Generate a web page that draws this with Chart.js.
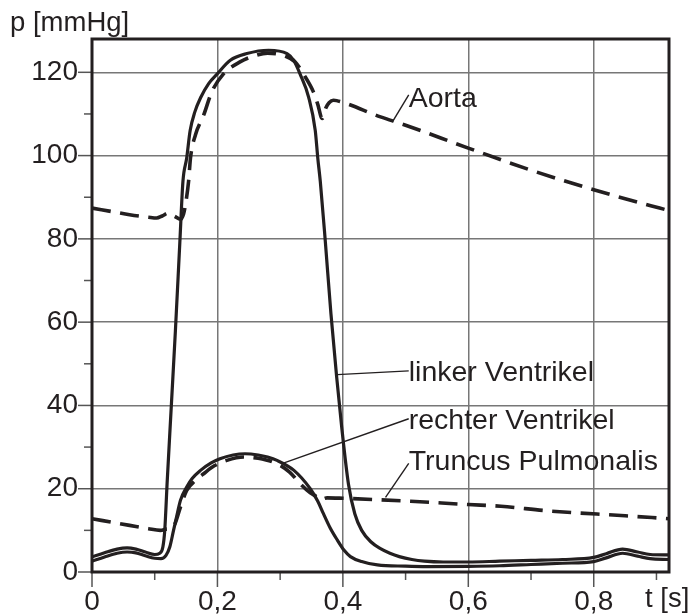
<!DOCTYPE html>
<html>
<head>
<meta charset="utf-8">
<script src="https://cdn.jsdelivr.net/npm/chart.js@4.4.1/dist/chart.umd.min.js"></script>
<style>
  html, body { margin: 0; background: #fff; }
  #wrap { width: 690px; height: 615px; }
</style>
</head>
<body>
<div id="wrap"><canvas id="chart"></canvas></div>
<script>
// time [s] and pressure [mmHg]
const lvT = [0, 0.02, 0.04, 0.056, 0.07, 0.085, 0.1, 0.108, 0.113, 0.116, 0.12, 0.1265, 0.133, 0.14, 0.145, 0.151, 0.1565, 0.164, 0.1735, 0.186, 0.199, 0.2205, 0.247, 0.2815, 0.311, 0.3215, 0.332, 0.3455, 0.356, 0.36, 0.364, 0.372, 0.381, 0.39, 0.398, 0.409, 0.419, 0.43, 0.445, 0.46, 0.475, 0.49, 0.51, 0.53, 0.56, 0.6, 0.65, 0.7, 0.75, 0.8, 0.82, 0.846, 0.87, 0.89, 0.92];
const lvP = [3.6, 4.6, 5.5, 5.8, 5.5, 4.8, 4.2, 4.5, 6, 10, 22, 40, 58, 79, 93.8, 99.4, 106, 110.5, 114, 117.3, 119.5, 122.9, 124.5, 125.3, 124.5, 122.9, 119.5, 114, 106, 99.4, 93.8, 79.4, 62, 47, 35, 21, 14, 10, 7.2, 5.6, 4.5, 3.7, 3, 2.6, 2.4, 2.4, 2.6, 2.8, 3, 3.5, 4.4, 5.5, 4.8, 4.2, 4.1];

const rvT = [0, 0.02, 0.04, 0.056, 0.07, 0.085, 0.1, 0.11, 0.118, 0.124, 0.13, 0.136, 0.141, 0.151, 0.16, 0.173, 0.19, 0.204, 0.225, 0.244, 0.265, 0.28, 0.295, 0.322, 0.348, 0.36, 0.369, 0.38, 0.391, 0.402, 0.412, 0.43, 0.455, 0.5, 0.535, 0.6, 0.65, 0.7, 0.75, 0.8, 0.82, 0.846, 0.87, 0.89, 0.92];
const rvP = [2.6, 3.6, 4.5, 4.8, 4.6, 3.9, 3.3, 3.2, 4, 6, 10, 14, 17.2, 20.4, 22.5, 24.4, 26.2, 27.2, 28.1, 28.4, 28.1, 27.6, 26.8, 24.4, 20, 17, 14, 10.5, 7.7, 5.2, 3.7, 2.5, 1.7, 1.4, 1.3, 1.35, 1.5, 1.8, 2.1, 2.5, 3.4, 4.5, 3.8, 3.2, 3];

const aoT = [0, 0.03, 0.06, 0.09, 0.103, 0.112, 0.122, 0.132, 0.141, 0.146, 0.149, 0.154, 0.157, 0.165, 0.178, 0.191, 0.209, 0.236, 0.258, 0.28, 0.308, 0.324, 0.3375, 0.353, 0.36, 0.367, 0.373, 0.378, 0.385, 0.39, 0.46, 0.5, 0.6, 0.7, 0.8, 0.905, 0.92];
const aoP = [87.4, 86.6, 85.8, 85.2, 85, 85.5, 86.2, 85.4, 84.7, 86, 88.2, 93.8, 99.4, 105, 109.7, 115.3, 119.5, 122.5, 123.9, 124.6, 123.9, 122.5, 119.5, 115.3, 112.3, 108.9, 111.5, 112.7, 113.3, 113.2, 109.3, 107.3, 101.8, 96.5, 91.8, 87.4, 86.8];

const tpT = [0, 0.03, 0.06, 0.09, 0.109, 0.118, 0.125, 0.132, 0.141, 0.151, 0.165, 0.178, 0.195, 0.215, 0.242, 0.265, 0.295, 0.315, 0.332, 0.348, 0.359, 0.364, 0.375, 0.4, 0.45, 0.508, 0.6, 0.652, 0.726, 0.85, 0.92];
const tpP = [12.8, 12, 11.2, 10.4, 10, 10.3, 10.5, 11.5, 15.6, 19.6, 22, 23.6, 25.5, 26.8, 27.6, 27.3, 26, 24, 21.2, 19, 18, 17.4, 17.8, 17.7, 17.4, 17, 16.2, 15.8, 14.7, 13.5, 12.8];

const xLabelValues = [0, 0.2, 0.4, 0.6, 0.8];
const yLabelValues = [0, 20, 40, 60, 80, 100, 120];
const seriesNames = ['Aorta', 'linker Ventrikel', 'rechter Ventrikel', 'Truncus Pulmonalis'];

const INK = '#231f20';
const GRID = '#777';
const FONT = '"Liberation Sans", Arial, sans-serif';

// leader lines: point on curve -> label, in data units
const callouts = [
  { name: seriesNames[0], from: [0.479, 108.1], to: [0.505, 114.6], text: [0.505, 111.7] },
  { name: seriesNames[1], from: [0.391, 47.4], to: [0.505, 48.3], text: [0.505, 45.9] },
  { name: seriesNames[2], from: [0.304, 26.1], to: [0.505, 36.8], text: [0.505, 34.4] },
  { name: seriesNames[3], from: [0.468, 17.9], to: [0.505, 26.1], text: [0.505, 24.4] },
];

const pts = (ts, ps) => ts.map((t, i) => ({ x: t, y: ps[i] }));
const isLabelX = (v) => xLabelValues.some((l) => Math.abs(l - v) < 1e-6);
const isLabelY = (v) => yLabelValues.includes(Math.round(v));

const decor = {
  id: 'decor',
  afterDatasetsDraw(chart) {
    const { ctx, chartArea: a, scales: { x, y } } = chart;
    ctx.save();
    // tick marks
    ctx.strokeStyle = '#555';
    ctx.lineWidth = 1.5;
    x.ticks.forEach((t) => {
      const px = x.getPixelForValue(t.value);
      ctx.beginPath();
      ctx.moveTo(px, a.bottom);
      ctx.lineTo(px, a.bottom + (isLabelX(t.value) ? 15 : 8));
      ctx.stroke();
    });
    y.ticks.forEach((t) => {
      const py = y.getPixelForValue(t.value);
      ctx.beginPath();
      ctx.moveTo(a.left, py);
      ctx.lineTo(a.left - (isLabelY(t.value) ? 14 : 8), py);
      ctx.stroke();
    });
    // frame
    ctx.strokeStyle = INK;
    ctx.lineWidth = 3;
    ctx.strokeRect(a.left, a.top, a.right - a.left, a.bottom - a.top);

    // callouts
    ctx.lineWidth = 1.4;
    ctx.fillStyle = INK;
    ctx.font = '28.5px ' + FONT;
    ctx.textBaseline = 'alphabetic';
    callouts.forEach((c) => {
      ctx.beginPath();
      ctx.moveTo(x.getPixelForValue(c.from[0]), y.getPixelForValue(c.from[1]));
      ctx.lineTo(x.getPixelForValue(c.to[0]), y.getPixelForValue(c.to[1]));
      ctx.stroke();
      ctx.fillText(c.name, x.getPixelForValue(c.text[0]), y.getPixelForValue(c.text[1]));
    });

    // axis titles
    ctx.font = '27.5px ' + FONT;
    ctx.textAlign = 'left';
    ctx.fillText('p [mmHg]', 10, 31);
    ctx.fillText('t [s]', 645, 607);
    ctx.restore();
  },
};

new Chart(document.getElementById('chart'), {
  type: 'line',
  data: {
    datasets: [
      { label: seriesNames[1], data: pts(lvT, lvP), borderColor: INK, borderWidth: 3.2 },
      { label: seriesNames[2], data: pts(rvT, rvP), borderColor: INK, borderWidth: 3.2 },
      { label: seriesNames[0], data: pts(aoT, aoP), borderColor: INK, borderWidth: 3.6, borderDash: [19, 9.5] },
      { label: seriesNames[3], data: pts(tpT, tpP), borderColor: INK, borderWidth: 3.6, borderDash: [19, 9.5] },
    ],
  },
  options: {
    responsive: true,
    maintainAspectRatio: false,
    animation: false,
    events: [],
    layout: { padding: { top: 39, right: 21, left: 0, bottom: 0 } },
    elements: {
      point: { radius: 0 },
      line: { cubicInterpolationMode: 'monotone', fill: false, borderCapStyle: 'butt' },
    },
    plugins: { legend: { display: false }, tooltip: { enabled: false } },
    scales: {
      x: {
        type: 'linear',
        min: 0,
        max: 0.92,
        afterFit: (s) => { s.height = 43; },
        border: { display: false },
        grid: {
          drawTicks: false,
          lineWidth: 1.5,
          color: (c) => (c.tick && c.tick.value > 0.01 && isLabelX(c.tick.value) ? GRID : 'transparent'),
        },
        ticks: {
          stepSize: 0.1,
          includeBounds: false,
          autoSkip: false,
          maxRotation: 0,
          padding: 13,
          color: INK,
          font: { family: FONT, size: 28 },
          callback: (v) => (isLabelX(v) ? (v === 0 ? '0' : Number(v).toFixed(1).replace('.', ',')) : ''),
        },
      },
      y: {
        min: 0,
        max: 128,
        afterFit: (s) => { s.width = 92; },
        border: { display: false },
        grid: {
          drawTicks: false,
          lineWidth: 1.5,
          color: (c) => (c.tick && c.tick.value > 0 && isLabelY(c.tick.value) ? GRID : 'transparent'),
        },
        ticks: {
          stepSize: 10,
          includeBounds: false,
          autoSkip: false,
          padding: 14,
          color: INK,
          font: { family: FONT, size: 28 },
          callback: (v) => (isLabelY(v) ? String(v) : ''),
        },
      },
    },
  },
  plugins: [decor],
});
</script>
</body>
</html>
